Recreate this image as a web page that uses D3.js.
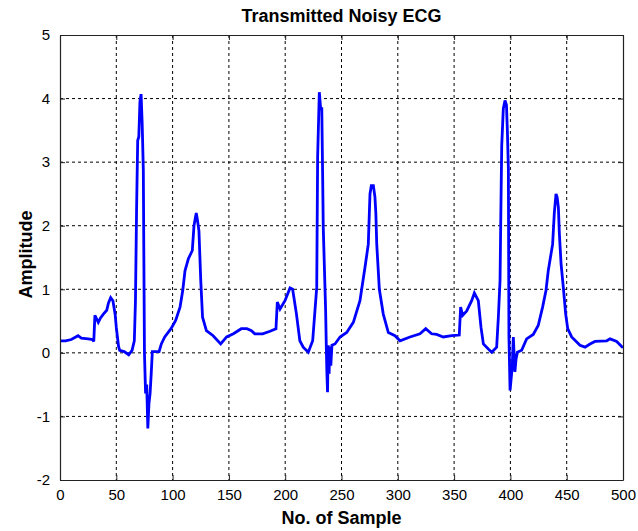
<!DOCTYPE html>
<html>
<head>
<meta charset="utf-8">
<script src="https://cdn.jsdelivr.net/npm/d3@7"></script>
<style>
  html, body { margin: 0; padding: 0; background: #fff; }
  svg { display: block; }
  text { font-family: Arial, "Liberation Sans", sans-serif; fill: #000; }
</style>
</head>
<body>
<svg id="chart" width="638" height="531"></svg>
<script>
// Sample index and amplitude of the received ECG trace
const sampleIdx = [
  0, 5, 10, 14, 16, 19, 25, 29, 30, 31, 34, 36, 38.5, 41.5, 43, 45, 47, 49, 50, 52,
  53, 57, 61, 64, 66, 67, 68, 69, 70, 71, 72, 73, 74, 75, 76, 77, 78, 79, 80, 81,
  82, 88, 90, 93, 98.6, 102.7, 106.6, 109, 111, 114, 117.5, 119, 120, 121, 122, 123.4, 125, 126.6, 130, 136,
  142.7, 148, 154, 161, 166, 170, 173, 180, 186.5, 191.8, 193, 195.4, 199.8, 204.3, 206.6, 210, 213, 216, 220.5, 224.4,
  228, 228.8, 230.3, 231.5, 232.5, 233.2, 233.8, 235.9, 236.5, 237, 237.6, 238.2, 239, 239.5, 240.5, 241.5, 244.2, 248.7, 254.6, 260.5,
  266.4, 270.9, 273.8, 275.3, 276.5, 278.3, 279.7, 280.5, 281.3, 283.6, 287.1, 291.6, 297.5, 302, 310.8, 319.7, 324.8, 330, 334.5, 340.4,
  347.9, 354.6, 355.8, 357.6, 361.2, 365.6, 368, 371.5, 373.9, 376, 380.4, 383.4, 387.8, 389.3, 390.8, 391.5, 392.3, 393.7, 395.2, 396.5,
  397.3, 398.2, 398.7, 399.7, 400.7, 401.6, 402.6, 404, 405, 406.2, 410, 414.4, 420.3, 424.7, 428.6, 431.6, 433.6, 437.5, 439, 440.5,
  441.5, 442.6, 443.5, 445, 447, 449.1, 450.9, 454.4, 461.8, 466.3, 470.7, 475.1, 485.5, 488.5, 494.4, 498.8, 500
];
const amplitude = [
  0.19, 0.19, 0.21, 0.25, 0.27, 0.23, 0.22, 0.21, 0.18, 0.59, 0.48, 0.55, 0.61, 0.67, 0.78, 0.87, 0.82, 0.60, 0.40, 0.10,
  0.04, 0.02, -0.03, 0.04, 0.19, 0.80, 2.24, 3.34, 3.40, 3.95, 4.07, 3.60, 2.87, 0.00, -0.64, -0.50, -1.19, -0.80, -0.64, -0.33,
  0.02, 0.02, 0.14, 0.25, 0.38, 0.51, 0.72, 0.98, 1.29, 1.48, 1.61, 2.00, 2.10, 2.20, 2.10, 1.92, 1.14, 0.56, 0.35, 0.27,
  0.14, 0.25, 0.30, 0.38, 0.38, 0.35, 0.30, 0.30, 0.34, 0.38, 0.80, 0.69, 0.82, 1.02, 1.00, 0.61, 0.19, 0.09, 0.01, 0.19,
  1.03, 3.08, 4.10, 3.84, 3.84, 2.87, 1.97, 0.67, 0.10, -0.30, -0.62, 0.12, -0.33, 0.10, -0.20, 0.12, 0.14, 0.25, 0.32, 0.48,
  0.82, 1.35, 1.71, 2.50, 2.63, 2.63, 2.45, 2.20, 1.71, 1.00, 0.61, 0.32, 0.27, 0.19, 0.25, 0.30, 0.38, 0.30, 0.29, 0.25,
  0.27, 0.28, 0.72, 0.59, 0.66, 0.82, 0.94, 0.82, 0.40, 0.14, 0.06, 0.01, 0.09, 0.56, 1.14, 2.18, 3.26, 3.84, 3.97, 3.90,
  3.50, 2.90, 0.25, -0.59, -0.40, -0.23, 0.25, -0.30, -0.10, 0.01, 0.04, 0.22, 0.29, 0.43, 0.72, 0.98, 1.29, 1.71, 2.20, 2.50,
  2.45, 2.29, 1.87, 1.40, 1.03, 0.61, 0.38, 0.25, 0.12, 0.09, 0.14, 0.18, 0.19, 0.22, 0.18, 0.10, 0.08
];

const xTicks = [0, 50, 100, 150, 200, 250, 300, 350, 400, 450, 500];
const yTicks = [-2, -1, 0, 1, 2, 3, 4, 5];

const titleText = "Transmitted Noisy ECG";
const xLabelText = "No. of Sample";
const yLabelText = "Amplitude";

const svg = d3.select("#chart");
const margin = { left: 60, right: 15, top: 35, bottom: 51 };
const W = 638, H = 531;
const plotW = W - margin.left - margin.right;
const plotH = H - margin.top - margin.bottom;

const x = d3.scaleLinear().domain([0, 500]).range([0, plotW]);
const y = d3.scaleLinear().domain([-2, 5]).range([plotH, 0]);

const g = svg.append("g").attr("transform", `translate(${margin.left},${margin.top})`);

// dotted grid
g.append("g").selectAll("line").data(xTicks.slice(1, -1)).join("line")
  .attr("x1", d => x(d)).attr("x2", d => x(d))
  .attr("y1", 0).attr("y2", plotH)
  .attr("stroke", "#000").attr("stroke-width", 1).attr("stroke-dasharray", "3,3");
g.append("g").selectAll("line").data(yTicks.slice(1, -1)).join("line")
  .attr("y1", d => y(d)).attr("y2", d => y(d))
  .attr("x1", 0).attr("x2", plotW)
  .attr("stroke", "#000").attr("stroke-width", 1).attr("stroke-dasharray", "3,3");

// signal trace
const pts = sampleIdx.map((s, i) => [s, amplitude[i]]);
const line = d3.line().x(d => x(d[0])).y(d => y(d[1]));
g.append("path").datum(pts)
  .attr("d", line)
  .attr("fill", "none")
  .attr("stroke", "#0000ff")
  .attr("stroke-width", 2.8)
  .attr("stroke-linejoin", "miter")
  .attr("stroke-miterlimit", 3);

// axes: ticks pointing inward, box on all sides; plain hyphen for negatives
const fontSize = "15px";
const fmt = d => String(d);
const xAxisB = d3.axisBottom(x).tickValues(xTicks).tickFormat(fmt).tickSizeInner(-5).tickSizeOuter(0).tickPadding(9);
const xAxisT = d3.axisTop(x).tickValues(xTicks).tickSizeInner(-5).tickSizeOuter(0).tickFormat("");
const yAxisL = d3.axisLeft(y).tickValues(yTicks).tickFormat(fmt).tickSizeInner(-5).tickSizeOuter(0).tickPadding(10);
const yAxisR = d3.axisRight(y).tickValues(yTicks).tickSizeInner(-5).tickSizeOuter(0).tickFormat("");

const styleAxis = sel => {
  sel.select(".domain").attr("stroke", "#222").attr("stroke-width", 1.2);
  sel.selectAll(".tick line").attr("stroke", "#222");
  sel.selectAll(".tick text").style("font-size", fontSize).attr("fill", "#000");
};
g.append("g").attr("transform", `translate(0,${plotH})`).call(xAxisB).call(styleAxis);
g.append("g").call(xAxisT).call(styleAxis);
g.append("g").call(yAxisL).call(styleAxis);
g.append("g").attr("transform", `translate(${plotW},0)`).call(yAxisR).call(styleAxis);

// titles
svg.append("text").attr("x", margin.left + plotW / 2).attr("y", 22)
  .attr("text-anchor", "middle").style("font-size", "18px").style("font-weight", "bold")
  .text(titleText);
svg.append("text").attr("x", margin.left + plotW / 2).attr("y", 524)
  .attr("text-anchor", "middle").style("font-size", "18px").style("font-weight", "bold")
  .text(xLabelText);
svg.append("text").attr("transform", `translate(26,${margin.top + plotH / 2 - 3}) rotate(-90)`)
  .attr("text-anchor", "middle").attr("dy", "0.35em").style("font-size", "18px").style("font-weight", "bold")
  .text(yLabelText);
</script>
</body>
</html>
